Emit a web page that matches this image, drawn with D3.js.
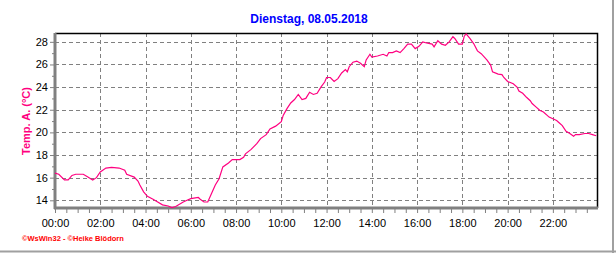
<!DOCTYPE html>
<html>
<head>
<meta charset="utf-8">
<script src="https://cdn.jsdelivr.net/npm/d3@7"></script>
<style>
	body { margin: 0; background: #fff; }
	svg { display: block; }
</style>
</head>
<body>
<svg width="616" height="253"></svg>
<script>
const TITLE = "Dienstag, 08.05.2018";
const Y_LABEL = "Temp. A. (°C)";
const FOOTER = "©WsWin32 - ©Heike Blödorn";

const times = ["00:00","00:10","00:25","00:35","00:45","00:55","01:15","01:25","01:40","01:50",
	"02:00","02:15","02:30","02:50","03:05","03:10","03:30","03:40","03:45","03:55",
	"04:05","04:20","04:30","04:45","05:00","05:10","05:20","05:40","05:50","06:00",
	"06:20","06:25","06:35","06:45","06:55","07:05","07:15","07:25","07:40","07:50",
	"08:10","08:20","08:25","08:40","08:55","09:05","09:20","09:30","09:45","10:00",
	"10:05","10:15","10:25","10:35","10:45","10:55","11:05","11:15","11:25","11:35",
	"11:45","11:55","12:00","12:10","12:20","12:30","12:40","12:50","12:55","13:00",
	"13:10","13:20","13:30","13:40","13:45","13:55","14:00","14:15","14:30","14:40",
	"14:45","14:55","15:05","15:15","15:25","15:35","15:45","15:55","16:05","16:15",
	"16:25","16:40","16:45","16:55","17:05","17:15","17:25","17:35","17:40","17:50",
	"18:00","18:05","18:10","18:20","18:30","18:40","18:50","19:05","19:15","19:20",
	"19:35","19:45","19:50","20:00","20:15","20:25","20:30","20:40","20:50","21:00",
	"21:05","21:15","21:25","21:35","21:45","21:50","22:00","22:10","22:15","22:25",
	"22:35","22:45","22:55","23:00","23:10","23:25","23:35","23:45","23:55"];

const temps = [16.4,16.3,15.8,15.8,16.2,16.3,16.3,16.1,15.8,16.0,
	16.5,16.85,16.9,16.85,16.65,16.3,16.05,15.7,15.35,14.75,
	14.35,14.1,13.9,13.6,13.5,13.35,13.45,13.85,14.0,14.15,
	14.25,14.1,13.85,13.85,14.6,15.35,15.9,16.95,17.3,17.6,
	17.6,17.8,18.1,18.5,19.0,19.45,19.8,20.3,20.55,20.95,
	21.5,22.1,22.6,22.9,23.35,22.9,23.0,23.55,23.35,23.45,
	24.0,24.45,24.85,24.85,24.5,24.75,25.25,25.55,25.35,25.8,
	26.2,26.3,26.1,25.8,26.4,26.9,26.65,26.75,26.9,26.75,
	27.05,27.05,27.2,27.05,27.4,27.8,27.8,27.4,27.6,28.0,
	27.9,27.8,27.55,28.1,27.8,27.7,28.0,28.45,28.3,27.8,
	27.8,28.5,28.7,28.3,27.85,27.2,26.95,26.4,25.95,25.35,
	25.15,25.1,24.85,24.5,24.3,24.0,23.65,23.45,23.1,22.8,
	22.55,22.25,21.95,21.8,21.5,21.35,21.2,21.05,20.9,20.6,
	20.1,19.9,19.65,19.8,19.8,19.9,19.9,19.8,19.7];

const xTickLabels = ["00:00","02:00","04:00","06:00","08:00","10:00","12:00","14:00","16:00","18:00","20:00","22:00"];
const yTicks = [14,16,18,20,22,24,26,28];

function toHours(s) {
	const [h, m] = s.split(":").map(Number);
	return h + m / 60;
}

const data = times.map((t, i) => ({h: toHours(t), v: temps[i]}));

const mLeft = 55, mRight = 597, mTop = 33, mBottom = 208;

const x = d3.scaleLinear().domain([0, 23.95]).range([mLeft, mRight]);
const y = d3.scaleLinear().domain([13.32, 28.78]).range([mBottom, mTop]);

const svg = d3.select("svg")
	.attr("font-family", "Arial, 'Liberation Sans', sans-serif");

// outer frame lines
svg.append("line").attr("x1", 613).attr("x2", 613).attr("y1", 0).attr("y2", 253)
	.attr("stroke", "#a0a0a0").attr("stroke-width", 2);
svg.append("line").attr("x1", 0).attr("x2", 616).attr("y1", 251.5).attr("y2", 251.5)
	.attr("stroke", "#a0a0a0").attr("stroke-width", 2);

svg.append("text")
	.attr("x", 309).attr("y", 23)
	.attr("text-anchor", "middle")
	.attr("font-size", "12px")
	.attr("font-weight", "bold")
	.attr("fill", "#0000ff")
	.text(TITLE);

// grid
const grid = svg.append("g")
	.attr("stroke", "#808080")
	.attr("stroke-dasharray", "4,3")
	.attr("shape-rendering", "crispEdges");

grid.selectAll(".gx")
	.data(xTickLabels.slice(1).map(toHours))
	.join("line")
	.attr("x1", d => Math.round(x(d)) + 0.5).attr("x2", d => Math.round(x(d)) + 0.5)
	.attr("y1", mTop).attr("y2", mBottom);

grid.selectAll(".gy")
	.data(yTicks)
	.join("line")
	.attr("x1", mLeft).attr("x2", mRight)
	.attr("y1", d => Math.round(y(d)) + 0.5).attr("y2", d => Math.round(y(d)) + 0.5);

// frame: top/right black, left/bottom gray thick
svg.append("path")
	.attr("d", `M${mLeft},${mTop + 0.5}H${mRight + 0.5}V${mBottom}`)
	.attr("fill", "none").attr("stroke", "#000").attr("stroke-width", 1.5);

// y axis
const yAxis = d3.axisLeft(y)
	.tickValues(d3.range(14, 29, 1))
	.tickSize(3)
	.tickFormat(d => yTicks.includes(d) ? d : "");
const gy = svg.append("g").attr("transform", `translate(${mLeft - 1},0)`).call(yAxis);
gy.select(".domain").remove();
gy.selectAll(".tick line").attr("stroke", "#808080")
	.attr("x2", d => yTicks.includes(d) ? -4 : -2);
gy.selectAll(".tick text").attr("font-size", "11px").attr("fill", "#000")
	.attr("x", -6).attr("font-family", "Arial, 'Liberation Sans', sans-serif");

// x axis
const xAxis = d3.axisBottom(x)
	.tickValues(d3.range(0, 24, 0.5))
	.tickSize(4)
	.tickFormat(d => d % 2 === 0 ? xTickLabels[d / 2] : "");
const gx = svg.append("g").attr("transform", `translate(0,${mBottom + 1})`).call(xAxis);
gx.select(".domain").remove();
gx.selectAll(".tick line").attr("stroke", "#808080");
gx.selectAll(".tick text").attr("font-size", "11px").attr("fill", "#000")
	.attr("y", 10).attr("font-family", "Arial, 'Liberation Sans', sans-serif");

svg.append("line").attr("x1", mLeft).attr("x2", mLeft).attr("y1", mTop).attr("y2", mBottom + 1)
	.attr("stroke", "#808080").attr("stroke-width", 3);
svg.append("line").attr("x1", mLeft - 1).attr("x2", mRight + 1).attr("y1", mBottom).attr("y2", mBottom)
	.attr("stroke", "#808080").attr("stroke-width", 3);

svg.append("text")
	.attr("transform", `translate(30,121) rotate(-90)`)
	.attr("text-anchor", "middle")
	.attr("font-size", "11px")
	.attr("font-weight", "bold")
	.attr("fill", "#ff0080")
	.text(Y_LABEL);

const line = d3.line()
	.x(d => x(d.h))
	.y(d => y(d.v));

svg.append("path")
	.datum(data)
	.attr("fill", "none")
	.attr("stroke", "#ff0080")
	.attr("stroke-width", 1.2)
	.attr("d", line);

svg.append("text")
	.attr("x", 22).attr("y", 241)
	.attr("font-size", "7.5px")
	.attr("font-weight", "bold")
	.attr("fill", "#ff0000")
	.text(FOOTER);
</script>
</body>
</html>
